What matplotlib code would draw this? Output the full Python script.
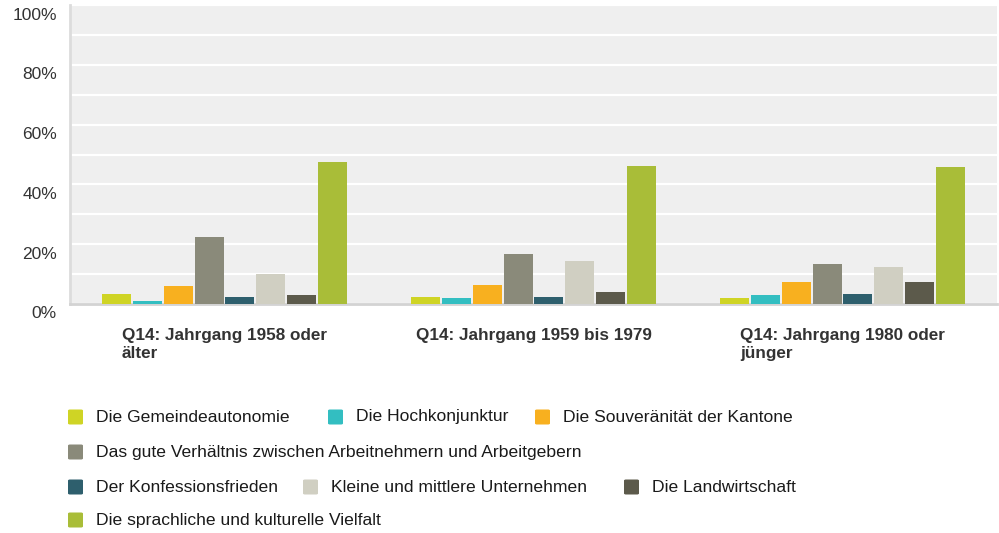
import matplotlib.pyplot as plt
import numpy as np
from matplotlib.patches import FancyBboxPatch

plt.rcParams['font.family'] = ['Liberation Sans', 'DejaVu Sans']

groups = ["Q14: Jahrgang 1958 oder\nälter", "Q14: Jahrgang 1959 bis 1979", "Q14: Jahrgang 1980 oder\njünger"]
series = [
    "Die Gemeindeautonomie",
    "Die Hochkonjunktur",
    "Die Souveränität der Kantone",
    "Das gute Verhältnis zwischen Arbeitnehmern und Arbeitgebern",
    "Der Konfessionsfrieden",
    "Kleine und mittlere Unternehmen",
    "Die Landwirtschaft",
    "Die sprachliche und kulturelle Vielfalt",
]
colors = ["#cfd425", "#33bec1", "#f8b01f", "#8a8a7a", "#2e5f6d", "#d0cfc2", "#5c5a4b", "#a9bd38"]

# percent per series, one value per age group
gemeinde = [3.4, 2.4, 2.1]
hochkonj = [1.1, 2.1, 3.1]
kantone = [6.1, 6.5, 7.5]
verhaeltnis = [22.5, 16.8, 13.5]
konfession = [2.4, 2.4, 3.4]
kmu = [10.1, 14.5, 12.5]
landwirtschaft = [3.1, 4.1, 7.5]
vielfalt = [47.6, 46.3, 45.9]
values = [gemeinde, hochkonj, kantone, verhaeltnis, konfession, kmu, landwirtschaft, vielfalt]
yticks = [0, 20, 40, 60, 80, 100]

W, H = 999, 533
fig = plt.figure(figsize=(W / 100, H / 100), dpi=100)
ax = fig.add_axes([70 / W, 1 - 304 / H, 927 / W, 299 / H])
ax.set_facecolor("#efefef")

x = np.arange(len(groups))
pitch = 0.1
width = 0.094
for i, (vals, c) in enumerate(zip(values, colors)):
    ax.bar(x + (i - 3.5) * pitch, vals, width=width, color=c, zorder=3)

ax.set_xlim(-0.5, 2.5)
ax.set_ylim(0, 100)
ax.set_yticks(np.arange(0, 101, 10))
ax.set_yticklabels([])
ax.grid(axis="y", color="white", linewidth=1.6, zorder=1)
ax.tick_params(axis="y", length=0)
ax.set_xticks([])
for s in ["top", "right"]:
    ax.spines[s].set_visible(False)
ax.spines["left"].set_color("#dcdcdc")
ax.spines["left"].set_linewidth(2)
ax.spines["bottom"].set_color("#d3d3d3")
ax.spines["bottom"].set_linewidth(2)

# tick labels sit a little below their gridline, like the original
for v in yticks:
    ax.annotate(f"{v}%", xy=(0, v), xycoords=("axes fraction", "data"), xytext=(-13, -10),
                textcoords="offset pixels", ha="right", va="center", fontsize=12.5, color="#333333")

for xi, g in zip(x, groups):
    ax.annotate(g, xy=(xi, 0), xycoords=("data", "axes fraction"), xytext=(0, -17),
                textcoords="offset points", ha="center", va="top", multialignment="left",
                fontsize=12.3, fontweight="bold", color="#333333", linespacing=1.3)


def px(xp, yp):
    return xp / W, 1 - yp / H


# legend rows: (series index, square left x) per row, row centre y
rows = [
    (417, [(0, 68), (1, 328), (2, 535)]),
    (452, [(3, 68)]),
    (487, [(4, 68), (5, 303), (6, 624)]),
    (520, [(7, 68)]),
]
for yc, items in rows:
    for idx, xs in items:
        x0, y0 = px(xs, yc + 7.5)
        box = FancyBboxPatch((x0, y0), 15 / W, 15 / H, boxstyle="round,pad=0,rounding_size=0.002",
                             transform=fig.transFigure, facecolor=colors[idx], edgecolor="none")
        fig.patches.append(box)
        tx, ty = px(xs + 28, yc)
        fig.text(tx, ty, series[idx], fontsize=12.6, color="#1a1a1a", va="center", ha="left")

fig.savefig("out.png", dpi=100, facecolor="white")
